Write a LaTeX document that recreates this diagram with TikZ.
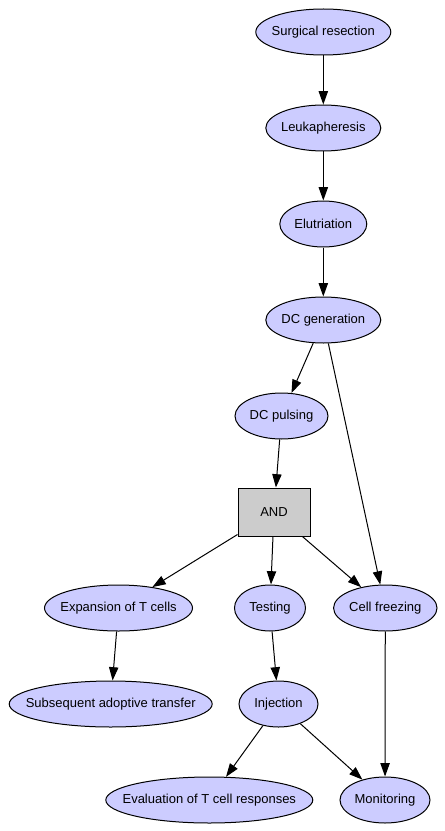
\documentclass[tikz,border=0pt]{standalone}
\usepackage{fontspec}
\setmainfont{Liberation Sans}
\usetikzlibrary{arrows.meta,shapes.geometric}
\definecolor{nodeblue}{HTML}{CCCCFF}
\definecolor{gategray}{HTML}{CCCCCC}

\begin{document}
\begin{tikzpicture}[x=0.75pt,y=-0.75pt,
  task/.style={ellipse,draw,line width=0.75pt,fill=nodeblue,minimum height=34.5pt,
    inner xsep=-14pt,inner ysep=0pt,font=\fontsize{9.75pt}{12pt}\selectfont},
  gate/.style={rectangle,draw,line width=0.75pt,fill=gategray,minimum width=54pt,
    minimum height=36pt,font=\fontsize{9.75pt}{12pt}\selectfont},
  link/.style={-{Triangle[length=10pt,width=7pt]},line width=0.75pt}]
\useasboundingbox (0,0) rectangle (445,831);
\node[task,minimum width=101.25pt] (surgery) at (323.3,32) {Surgical resection};
\node[task,minimum width=86.25pt] (leuka) at (323.3,128) {Leukapheresis};
\node[task,minimum width=65.25pt] (elutri) at (323.3,224) {Elutriation};
\node[task,minimum width=86.25pt] (dcgen) at (323.3,320) {DC generation};
\node[task,minimum width=69.75pt] (dcpulse) at (281.5,416) {DC pulsing};
\node[gate] (and) at (274,512) {AND};
\node[task,minimum width=111pt] (expand) at (118.5,608) {Expansion of T cells};
\node[task,minimum width=53.25pt] (testing) at (270,608) {Testing};
\node[task,minimum width=77.6pt] (freeze) at (385.3,608) {Cell freezing};
\node[task,minimum width=152.25pt] (transfer) at (110.7,704) {Subsequent adoptive transfer};
\node[task,minimum width=59.25pt] (inject) at (278.5,704) {Injection};
\node[task,minimum width=155.25pt] (evaluate) at (209.3,800) {Evaluation of T cell responses};
\node[task,minimum width=67.5pt] (monitor) at (385,800) {Monitoring};

\draw[link] (surgery) -- (leuka);
\draw[link] (leuka) -- (elutri);
\draw[link] (elutri) -- (dcgen);
\draw[link] (dcgen) -- (dcpulse);
\draw[link] (dcgen) -- (freeze);
\draw[link] (dcpulse) -- (and);
\draw[link] (and) -- (expand);
\draw[link] (and) -- (testing);
\draw[link] (and) -- (freeze);
\draw[link] (expand) -- (transfer);
\draw[link] (testing) -- (inject);
\draw[link] (inject) -- (evaluate);
\draw[link] (inject) -- (monitor);
\draw[link] (freeze) -- (monitor);
\end{tikzpicture}
\end{document}
